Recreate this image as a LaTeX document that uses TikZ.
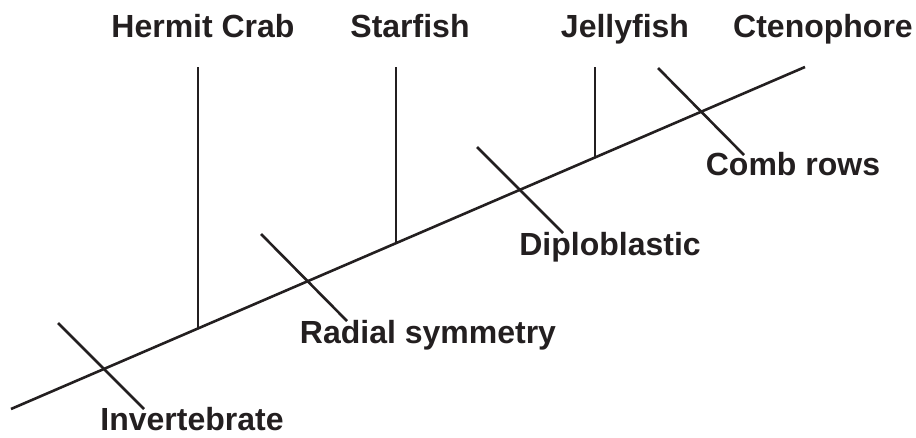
\documentclass[tikz,border=0pt]{standalone}
\usepackage{fontspec}
\setmainfont{Liberation Sans}
\definecolor{ink}{HTML}{231F20}
\begin{document}
\begin{tikzpicture}[x=1pt,y=-1pt,
  lbl/.style={anchor=base,inner sep=0pt,text=ink,font=\fontsize{32}{38}\selectfont\bfseries},
  ln/.style={draw=ink,line width=2.6pt}]
\useasboundingbox (0,0) rectangle (916,437);
% main axis
\coordinate (m0) at (11,409);
\coordinate (m1) at (805,67);
\draw[ln] (m0) -- (m1);
% trait ticks
\coordinate (i0) at (58,323);  \coordinate (i1) at (144,409);
\coordinate (r0) at (261,234); \coordinate (r1) at (347,321);
\coordinate (d0) at (477,147); \coordinate (d1) at (563,233);
\coordinate (c0) at (658,68);  \coordinate (c1) at (744,155);
\draw[ln] (i0) -- (i1);
\draw[ln] (r0) -- (r1);
\draw[ln] (d0) -- (d1);
\draw[ln] (c0) -- (c1);
% taxon branches
\coordinate (h0) at (198,67); \coordinate (h1) at (198,328.5);
\coordinate (s0) at (396,67); \coordinate (s1) at (396,243.2);
\coordinate (j0) at (595,67); \coordinate (j1) at (595,157.5);
\draw[ln] (h0) -- (h1);
\draw[ln] (s0) -- (s1);
\draw[ln] (j0) -- (j1);
% labels
\node[lbl] (hermit) at (203,37) {Hermit Crab};
\node[lbl] (star) at (410,37) {Starfish};
\node[lbl] (jelly) at (625,37) {Jellyfish};
\node[lbl] (cteno) at (823,37) {Ctenophore};
\node[lbl] (comb) at (793,175.5) {Comb rows};
\node[lbl] (diplo) at (610,255.5) {Diploblastic};
\node[lbl] (radial) at (428,343) {Radial symmetry};
\node[lbl] (invert) at (192,430.5) {Invertebrate};
\end{tikzpicture}
\end{document}
